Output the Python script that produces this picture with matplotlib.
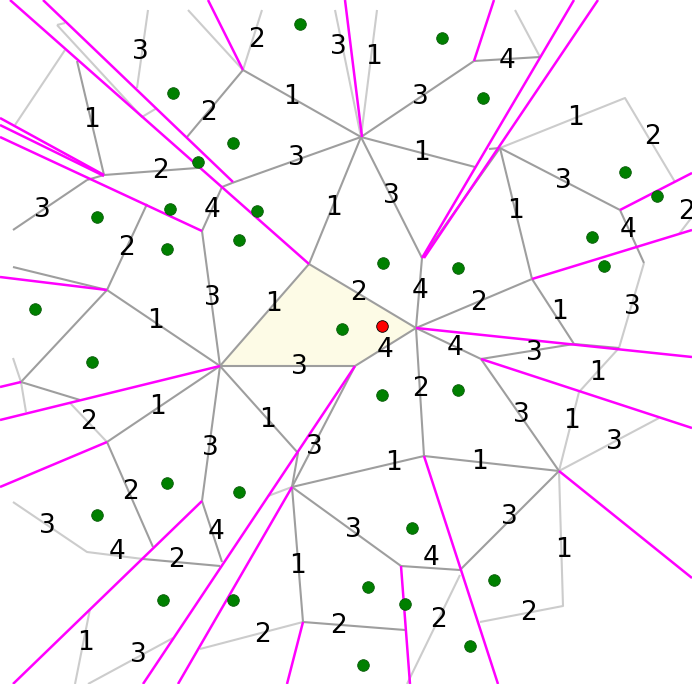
import numpy as np
import matplotlib
matplotlib.use("Agg")
import matplotlib.pyplot as plt
from matplotlib.collections import LineCollection
from matplotlib.patches import Polygon

# drawing units are image pixels (y grows downward)

# highlighted cell
cell_x = [309, 416, 355, 220]
cell_y = [264, 328, 366, 366]

# query point
query_x, query_y = 382, 326

# sites
site_x = [300, 442, 173, 483, 233, 198, 625, 657, 97, 170, 257, 167, 239, 383, 458,
          592, 604, 35, 342, 92, 382, 458, 167, 239, 97, 412, 494, 368, 405, 163,
          233, 470, 363]
site_y = [24, 38, 93, 98, 143, 162, 172, 196, 217, 209, 211, 249, 240, 263, 268,
          237, 266, 309, 329, 362, 395, 390, 483, 492, 515, 528, 580, 587, 604, 600,
          600, 646, 665]

# dark edges (polylines)
dark_edges = [
    [(361, 137), (243, 70)], [(361, 137), (232, 183)], [(361, 137), (309, 264)],
    [(361, 137), (422, 258)], [(361, 137), (475, 167)], [(361, 137), (474, 61)],
    [(474, 61), (540, 57)], [(500, 148), (489, 149)],
    [(243, 70), (187, 137)], [(77, 61), (104, 175)], [(104, 175), (197, 168)],
    [(87, 180), (104, 175)], [(87, 180), (13, 230)],
    [(232, 183), (222, 187), (202, 231)], [(202, 231), (220, 366)],
    [(147, 204), (107, 290)], [(107, 290), (220, 366)], [(107, 290), (13, 267)],
    [(107, 290), (21, 382)], [(21, 382), (80, 400)],
    [(220, 366), (107, 442)], [(220, 366), (298, 453), (292, 487)],
    [(220, 366), (202, 501)],
    [(309, 264), (416, 328), (355, 366), (220, 366), (309, 264)],
    [(416, 328), (422, 258)], [(416, 328), (532, 279)], [(416, 328), (481, 359)],
    [(416, 328), (424, 456)], [(355, 366), (292, 487)],
    [(422, 258), (500, 148)], [(500, 148), (532, 279)], [(500, 148), (620, 210)],
    [(620, 210), (644, 263)],
    [(532, 279), (574, 344)], [(574, 344), (481, 359)], [(574, 344), (619, 348)],
    [(481, 359), (559, 471)], [(424, 456), (559, 471)], [(424, 456), (292, 487)],
    [(292, 487), (401, 566)], [(292, 487), (303, 622)], [(401, 566), (460, 570)],
    [(460, 570), (559, 471)], [(303, 622), (405, 630)],
    [(107, 442), (153, 547)], [(202, 501), (222, 562)], [(143, 559), (220, 566)],
]

# light edges
light_edges = [
    [(335, 10), (361, 137)], [(377, 10), (361, 137)], [(515, 10), (540, 57)],
    [(500, 148), (625, 98), (675, 182)], [(679, 234), (692, 217)],
    [(644, 263), (619, 348), (579, 392), (559, 471)],
    [(559, 471), (659, 418)], [(559, 471), (563, 606), (480, 622)],
    [(460, 575), (407, 684)],
    [(148, 10), (137, 88)], [(188, 10), (243, 70)], [(262, 10), (243, 70)],
    [(57, 25), (65, 23)], [(57, 25), (142, 117), (157, 108)],
    [(65, 50), (15, 125)],
    [(13, 358), (21, 382), (26, 412)], [(70, 403), (107, 442)],
    [(13, 502), (87, 552), (143, 559)],
    [(90, 609), (75, 684)], [(88, 684), (173, 638)], [(200, 649), (303, 622)],
    [(292, 487), (268, 496)],
]

# magenta cut lines
cut_lines = [
    [(10, 0), (309, 264)], [(43, 0), (233, 182)], [(208, 0), (243, 70)],
    [(345, 0), (362, 137)], [(494, 0), (474, 61)], [(574, 0), (422, 258)],
    [(598, 0), (424, 258)], [(620, 210), (692, 173)], [(532, 279), (692, 230)],
    [(416, 328), (692, 357)], [(481, 359), (692, 428)], [(559, 471), (692, 578)],
    [(424, 456), (498, 684)], [(401, 566), (410, 684)], [(303, 622), (287, 684)],
    [(292, 487), (178, 684)], [(355, 366), (143, 684)], [(202, 501), (13, 684)],
    [(107, 442), (0, 487)], [(220, 366), (0, 420)], [(21, 382), (0, 387)],
    [(107, 290), (0, 277)], [(0, 118), (104, 175)], [(0, 125), (104, 176)],
    [(0, 137), (202, 231)],
]

# edge labels
label_text = ["3", "2", "3", "1", "4",
              "1", "2", "1", "3", "1", "2",
              "2", "3", "1", "3",
              "3", "4", "1", "3", "1", "2", "4",
              "2", "2", "4", "2", "1", "3",
              "3", "1", "1", "4", "4", "3", "1",
              "3", "1", "2", "1", "2", "3", "1", "3",
              "3", "3", "1", "1", "2", "3",
              "3", "4", "3", "4", "2", "4", "1", "1",
              "2", "2", "2", "2", "1", "3"]
label_x = [140, 257, 338, 373, 507,
           92, 208, 292, 420, 575, 653,
           160, 296, 422, 563,
           42, 212, 333, 391, 515, 686, 628,
           126, 358, 420, 479, 559, 632,
           212, 274, 156, 385, 455, 534, 598,
           299, 158, 89, 267, 420, 521, 571, 614,
           210, 314, 393, 479, 131, 509,
           47, 216, 353, 117, 177, 431, 563, 298,
           528, 262, 338, 439, 85, 138]
label_y = [52, 40, 47, 57, 61,
           120, 113, 97, 97, 118, 137,
           171, 158, 153, 181,
           210, 210, 208, 196, 211, 212, 230,
           248, 293, 291, 303, 312, 307,
           298, 304, 321, 350, 348, 353, 373,
           367, 407, 422, 420, 389, 415, 421, 442,
           448, 447, 463, 462, 492, 517,
           526, 532, 530, 552, 560, 558, 550, 566,
           613, 635, 626, 620, 643, 655]

fig = plt.figure(figsize=(6.92, 6.84), dpi=100)
ax = fig.add_axes([0, 0, 1, 1])
ax.set_xlim(0, 692)
ax.set_ylim(684, 0)
ax.axis("off")

ax.add_patch(Polygon(np.column_stack([cell_x, cell_y]), closed=True,
                     facecolor="#fdfbe6", edgecolor="none", zorder=1))
ax.add_collection(LineCollection(light_edges, colors="#cccccc", linewidths=1.5, zorder=2))
ax.add_collection(LineCollection(dark_edges, colors="#9e9e9e", linewidths=1.5, zorder=3))
ax.add_collection(LineCollection(cut_lines, colors="#ff00ff", linewidths=1.8, zorder=4))

ax.scatter(site_x, site_y, s=70, color="green", edgecolors="#0a5a0a",
           linewidths=0.6, zorder=5)
ax.scatter([query_x], [query_y], s=70, color="red", edgecolors="black",
           linewidths=0.6, zorder=6)

for t, x, y in zip(label_text, label_x, label_y):
    ax.text(x, y, t, fontsize=19, ha="center", va="center", color="black", zorder=7)

fig.savefig("out.png", dpi=100)
